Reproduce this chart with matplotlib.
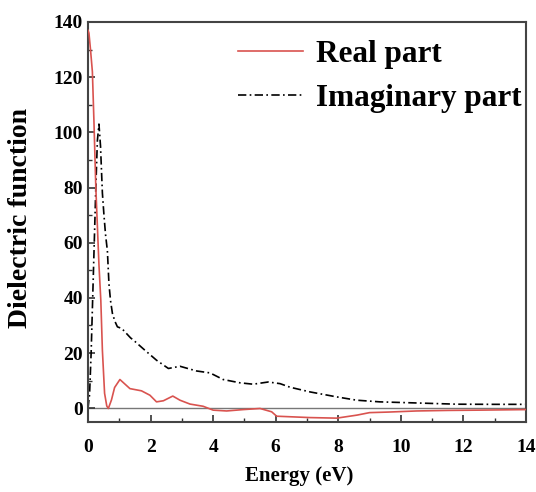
import matplotlib
matplotlib.use("Agg")
import matplotlib.pyplot as plt
from matplotlib.ticker import MultipleLocator

plt.rcParams['font.family'] = ['Liberation Serif', 'DejaVu Serif']
plt.rcParams['font.weight'] = 'bold'

# Real part of dielectric function
real_x = [0.0, 0.03, 0.08, 0.14, 0.19, 0.25, 0.30, 0.35, 0.41, 0.46, 0.53, 0.60, 0.65,
          0.75, 0.85, 1.02, 1.34, 1.71, 1.98, 2.19, 2.41, 2.71, 2.94, 3.26, 3.68, 4.0,
          4.43, 4.96, 5.5, 5.87, 6.03, 6.46, 7.1, 7.95, 8.6, 9.0, 9.6, 10.5, 11.5, 12.5, 14.0]
real_y = [137, 136, 130, 122, 104, 80, 66, 52, 39, 21, 5.4, 0.8, -0.1,
          3.0, 7.5, 10.4, 7.1, 6.3, 4.7, 2.3, 2.7, 4.4, 2.9, 1.5, 0.7, -0.7,
          -1.0, -0.5, -0.1, -1.3, -2.9, -3.1, -3.4, -3.6, -2.5, -1.6, -1.4, -1.0, -0.8, -0.7, -0.5]

# Imaginary part of dielectric function
imag_x = [0.0, 0.05, 0.10, 0.15, 0.20, 0.25, 0.30, 0.35, 0.40, 0.46, 0.51, 0.56, 0.62,
          0.67, 0.72, 0.78, 0.86, 0.94, 1.08, 1.36, 1.45, 1.82, 2.19, 2.57, 2.94, 3.47,
          3.9, 4.32, 4.86, 5.28, 5.76, 6.14, 6.46, 7.1, 7.95, 8.59, 9.33, 10.5, 11.8, 13.0, 14.0]
imag_y = [0, 5, 20, 40, 60, 80, 97, 103, 95, 78, 70, 63, 57,
          45, 39, 34.4, 31.5, 29.5, 28.9, 25.5, 24.7, 21.0, 17.4, 14.4, 15.2, 13.5,
          12.8, 10.4, 9.2, 8.7, 9.5, 8.9, 7.6, 5.9, 4.1, 2.9, 2.3, 1.9, 1.45, 1.4, 1.4]

fig = plt.figure(figsize=(5.36, 4.92), dpi=100)
ax = fig.add_axes([88/536, 70/492, 438/536, 400/492])

ax.axhline(0, color='#777777', lw=1.0, zorder=1)
ax.plot(real_x, real_y, color='#d9534f', lw=1.2, label='Real part', zorder=3)
ax.plot(imag_x, imag_y, color='black', lw=1.2, linestyle=(0, (5, 2, 1, 2)),
        label='Imaginary part', zorder=2)

ax.set_xlim(0, 14)
ax.set_ylim(-5, 140)
ax.xaxis.set_major_locator(MultipleLocator(2))
ax.xaxis.set_minor_locator(MultipleLocator(1))
ax.yaxis.set_major_locator(MultipleLocator(20))
ax.yaxis.set_minor_locator(MultipleLocator(10))
ax.tick_params(which='both', direction='in', top=False, right=False,
               labelsize=14, color='#333333')
ax.tick_params(which='major', length=5, width=1.2)
ax.tick_params(which='minor', length=3, width=1.0)
ax.tick_params(axis='x', pad=12)
for lab in ax.get_xticklabels() + ax.get_yticklabels():
    lab.set_fontweight('bold')
for s in ax.spines.values():
    s.set_color('#444444')
    s.set_linewidth(1.5)

ax.set_xlabel('Energy (eV)', fontsize=15, fontweight='bold')
ax.xaxis.set_label_coords(0.482, -0.11)
ax.set_ylabel('Dielectric function', fontsize=20, fontweight='bold')
ax.yaxis.set_label_coords(-0.125, 0.51)

leg = ax.legend(loc='upper left', bbox_to_anchor=(0.342, 0.955), frameon=False,
                prop={'size': 22.5, 'weight': 'bold'}, handlelength=2.1,
                handletextpad=0.4, labelspacing=0.48, borderpad=0, borderaxespad=0)

fig.savefig('out.png', dpi=100)
